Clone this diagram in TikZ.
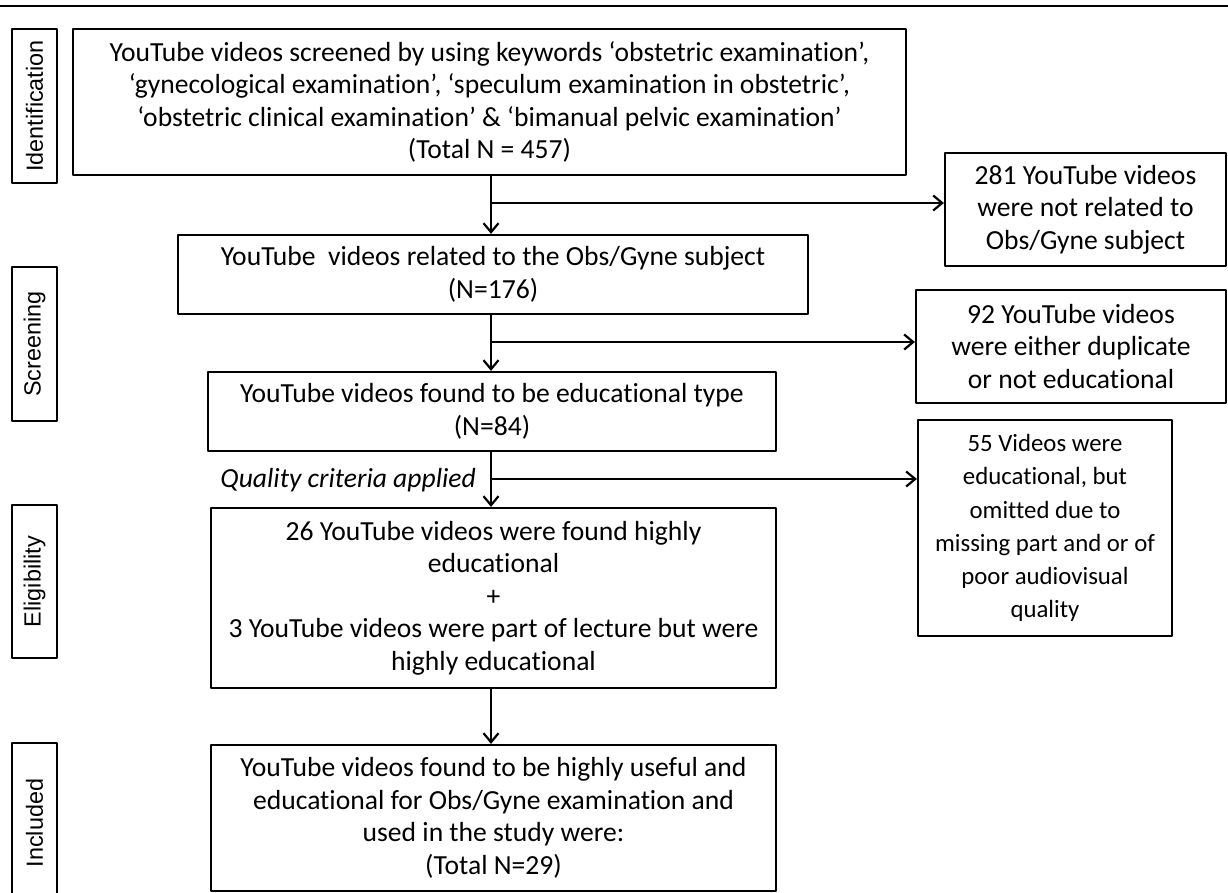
\documentclass[tikz,border=0pt]{standalone}
\usepackage{fontspec}
\setmainfont{Carlito}[Ligatures=NoCommon]
\newfontfamily\phasefont{Liberation Sans}
\usetikzlibrary{positioning,arrows.meta}
\begin{document}
\begin{tikzpicture}[x=0.5pt, y=-0.5pt, line width=1.1pt, line join=round, >={Straight Barb[length=4.5pt,width=7.5pt]}, font=\fontsize{13.8}{16.3}\selectfont]
		\tikzset{
			box/.style={draw, align=center, inner sep=0pt},
			phase/.style={draw, rotate=90, minimum height=22.5pt, inner sep=0pt, font=\phasefont\fontsize{11.7}{14}\selectfont},
			flow/.style={->}
		}
		\useasboundingbox (0,0) rectangle (1228,893);
		\draw (0,6)--(1228,6);
		% phase labels
		\node[phase, minimum width=77pt] (ident) at (34.5,106) {Identification};
		\node[phase, minimum width=77pt] (screen) at (34.5,344) {Screening};
		\node[phase, minimum width=76.5pt] (elig) at (34.5,581.5) {Eligibility};
		\node[phase, minimum width=80pt] (incl) at (34.5,823) {Included};
		% main column
		\node[box, minimum width=416.5pt, minimum height=73pt] (total) at (489.5,102) {YouTube videos screened by using keywords ‘obstetric examination’,\\ ‘gynecological examination’, ‘speculum examination in obstetric’,\\ ‘obstetric clinical examination’ \& ‘bimanual pelvic examination’\\ (Total N = 457)};
		\node[box, minimum width=315pt, minimum height=39.5pt] (related) at (493,274.5) {YouTube\ \ videos related to the Obs/Gyne subject\\ (N=176)};
		\node[box, minimum width=284pt, minimum height=39.5pt] (educ) at (492,411.5) {YouTube videos found to be educational type\\ (N=84)};
		\node[box, minimum width=282.5pt, minimum height=90pt] (high) at (493.5,598) {26 YouTube videos were found highly\\ educational\\ +\\ 3 YouTube videos were part of lecture but were\\ highly educational};
		\node[box, minimum width=282.5pt, minimum height=73pt] (used) at (493.5,818) {YouTube videos found to be highly useful and\\ educational for Obs/Gyne examination and\\ used in the study were:\\ (Total N=29)};
		% excluded boxes
		\node[box, minimum width=140.5pt, minimum height=56.5pt] (notrel) at (1085.5,209.5) {281 YouTube videos\\ were not related to\\ Obs/Gyne subject};
		\node[box, minimum width=155pt, minimum height=56.5pt] (dup) at (1071,346.5) {92 YouTube videos\\ were either duplicate\\ or not educational};
		\node[box, minimum width=127pt, minimum height=108pt, font=\fontsize{12.4}{16.6}\selectfont] (omit) at (1045,528) {55 Videos were\\ educational, but\\ omitted due to\\ missing part and or of\\ poor audiovisual\\ quality};
		\node[anchor=east, inner sep=0pt, font=\fontsize{13.8}{16.3}\selectfont\itshape] (crit) at (477,480) {Quality criteria applied};
		% connectors
		\coordinate (s1) at (491,203);
		\coordinate (s2) at (491,342);
		\coordinate (s3) at (491,479);
		\draw[flow] (total.south -| s1)--(related.north -| s1);
		\draw[flow] (s1)--(s1 -| notrel.west);
		\draw[flow] (related.south -| s2)--(educ.north -| s2);
		\draw[flow] (s2)--(s2 -| dup.west);
		\draw[flow] (educ.south -| s3)--(high.north -| s3);
		\draw[flow] (s3)--(s3 -| omit.west);
		\draw[flow] (high.south -| s3)--(used.north -| s3);
\end{tikzpicture}
\end{document}
